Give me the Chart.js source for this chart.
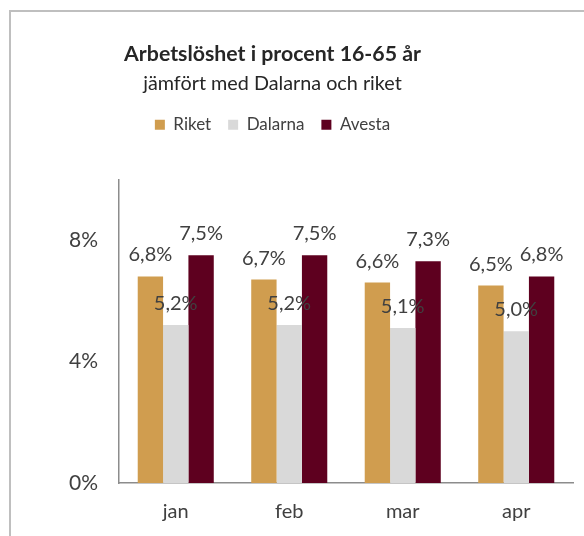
<!DOCTYPE html>
<html>
<head>
<meta charset="utf-8">
<script src="https://cdn.jsdelivr.net/npm/chart.js@4/dist/chart.umd.min.js"></script>
<style>
  html, body { margin: 0; padding: 0; background: #fff; overflow: hidden; width: 584px; height: 536px; }
  #frame { position: absolute; left: 9px; top: 10px; width: 700px; height: 700px; border: 2px solid #bfbfbf; }
  #chart { position: absolute; left: -28px; top: 0; }
</style>
</head>
<body>
<div id="frame"></div>
<canvas id="chart" width="612" height="536"></canvas>
<script>
// -------- DATA ---------------
const months = ["jan", "feb", "mar", "apr"];
const riket = [6.8, 6.7, 6.6, 6.5];
const dalarna = [5.2, 5.2, 5.1, 5.0];
const avesta = [7.5, 7.5, 7.3, 6.8];
const yTicks = [0, 4, 8];

const tan = "#d09d4f";
const lightGrey = "#d9d9d9";
const maroon = "#5e001f";
const textGrey = "#404040";
const fontName = "Lato";

function pct(v) {
    return v.toFixed(1).replace(".", ",") + "%";
}

// ------- labels over each bar ----------
const barLabels = {
    id: "barLabels",
    afterDatasetsDraw(chart) {
        const ctx = chart.ctx;
        ctx.save();
        ctx.font = "20px " + fontName;
        ctx.fillStyle = textGrey;
        ctx.textAlign = "center";
        ctx.textBaseline = "alphabetic";
        chart.data.datasets.forEach((ds, i) => {
            chart.getDatasetMeta(i).data.forEach((bar, j) => {
                ctx.fillText(pct(ds.data[j]), bar.x, bar.y - 15);
            });
        });
        ctx.restore();
    }
};

// ------- extra room under the legend ----------
const legendGap = {
    id: "legendGap",
    beforeInit(chart) {
        const fit = chart.legend.fit;
        chart.legend.fit = function () {
            fit.bind(chart.legend)();
            this.height += 36;
        };
    }
};

new Chart(document.getElementById("chart"), {
    type: "bar",
    data: {
        labels: months,
        datasets: [
            { label: "Riket", data: riket, backgroundColor: tan },
            { label: "Dalarna", data: dalarna, backgroundColor: lightGrey },
            { label: "Avesta", data: avesta, backgroundColor: maroon }
        ]
    },
    options: {
        responsive: false,
        animation: false,
        events: [],
        layout: { padding: { left: 0, right: 11, top: 0, bottom: 0 } },
        datasets: {
            bar: { barPercentage: 1, categoryPercentage: 0.67 }
        },
        plugins: {
            title: {
                display: true,
                text: "Arbetslöshet i procent 16-65 år",
                color: "#262626",
                font: { family: fontName, size: 21.3, weight: "bold" },
                padding: { top: 41, bottom: 0 }
            },
            subtitle: {
                display: true,
                text: "jämfört med Dalarna och riket",
                color: "#262626",
                font: { family: fontName, size: 19.8, weight: "normal" },
                padding: { top: 5, bottom: 4 }
            },
            legend: {
                position: "top",
                labels: {
                    boxWidth: 10,
                    boxHeight: 10,
                    padding: 17,
                    color: textGrey,
                    font: { family: fontName, size: 17 }
                }
            },
            tooltip: { enabled: false }
        },
        scales: {
            x: {
                grid: { display: false, drawTicks: false },
                border: { display: true, color: "#8c8c8c", width: 1.5 },
                ticks: {
                    color: textGrey,
                    padding: 17,
                    font: { family: fontName, size: 20 }
                },
                afterFit(scale) { scale.height = 53; }
            },
            y: {
                min: 0,
                max: 10,
                grid: { display: false, drawTicks: false },
                border: { display: true, color: "#8c8c8c", width: 1.5 },
                ticks: {
                    color: textGrey,
                    padding: 21,
                    font: { family: fontName, size: 21 },
                    callback: (v) => v + "%"
                },
                afterBuildTicks(scale) {
                    scale.ticks = yTicks.map(v => ({ value: v }));
                },
                afterFit(scale) { scale.width = 147; }
            }
        }
    },
    plugins: [barLabels, legendGap]
});
</script>
</body>
</html>
